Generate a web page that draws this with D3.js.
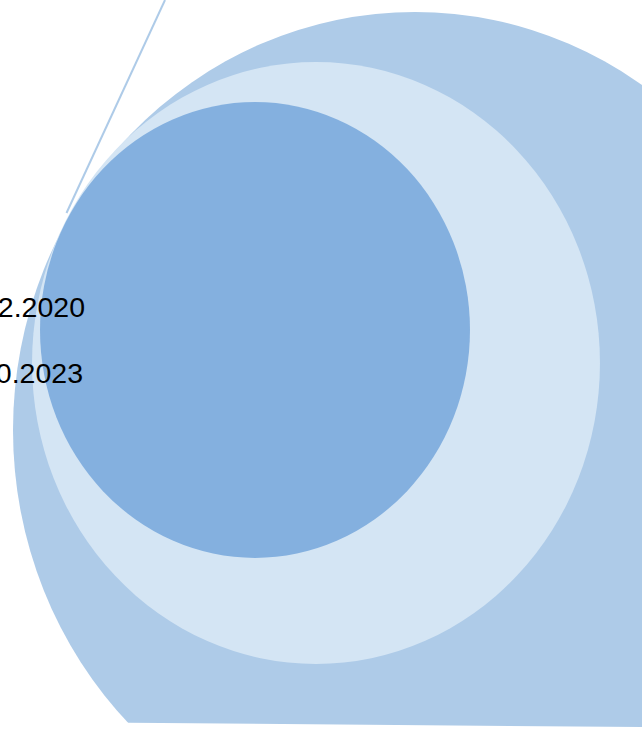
<!DOCTYPE html>
<html>
<head>
<meta charset="utf-8">
<script src="https://cdn.jsdelivr.net/npm/d3@7"></script>
<style>
  body { margin: 0; background: #fff; overflow: hidden; }
  svg { display: block; }
</style>
</head>
<body>
<svg id="chart"></svg>
<script>
// bubble data (data units)
var bubbleNames = ["outer", "middle", "inner"];
var bubbleX = [41.5, 31.6, 25.5];
var bubbleY = [43.0, 36.3, 33.0];
var bubbleSize = [100, 49.9, 28.6];
var bubbleColors = ["#aecbe8", "#d4e5f4", "#84b0df"];
var labelText = ["2.2020", "0.2023"];
var leaderX = [16.5, 6.65];
var leaderY = [0, 21.3];

var width = 642, height = 731;
var svg = d3.select("#chart").attr("width", width).attr("height", height);

var x = d3.scaleLinear().domain([0, 64.2]).range([0, width]);
var y = d3.scaleLinear().domain([0, 73.1]).range([0, height]);
var r = d3.scaleSqrt().domain([0, 100]).range([0, 402]);
var aspect = [1.04, 1.06, 1.06];

// bottom clip of the outer bubble (slightly tilted edge)
svg.append("clipPath").attr("id", "bottomClip")
  .append("polygon")
  .attr("points", [[-10, -10], [width + 10, -10], [width + 10, 727.2], [130, 722.7], [-10, 721.7]].join(" "));

svg.selectAll("ellipse.bubble")
  .data(bubbleNames)
  .enter().append("ellipse")
  .attr("class", "bubble")
  .attr("cx", function(d, i){ return x(bubbleX[i]); })
  .attr("cy", function(d, i){ return y(bubbleY[i]); })
  .attr("rx", function(d, i){ return r(bubbleSize[i]); })
  .attr("ry", function(d, i){ return r(bubbleSize[i]) * aspect[i]; })
  .attr("fill", function(d, i){ return bubbleColors[i]; })
  .attr("clip-path", function(d, i){ return i === 0 ? "url(#bottomClip)" : null; });

// leader line, ends where it meets the bubble edge
svg.append("line")
  .attr("x1", x(leaderX[0])).attr("y1", y(leaderY[0]))
  .attr("x2", x(leaderX[1])).attr("y2", y(leaderY[1]))
  .attr("stroke", "#aecbe8")
  .attr("stroke-width", 2);

var labelY = d3.scalePoint().domain(labelText).range([317, 383]);

svg.selectAll("text.lbl")
  .data(labelText)
  .enter().append("text")
  .attr("class", "lbl")
  .attr("x", function(d, i){ return i === 0 ? 85 : 83; })
  .attr("y", function(d){ return labelY(d); })
  .attr("text-anchor", "end")
  .attr("font-family", "Liberation Sans, Arial, sans-serif")
  .attr("font-size", "28.5px")
  .attr("fill", "#000")
  .text(function(d){ return d; });
</script>
</body>
</html>
